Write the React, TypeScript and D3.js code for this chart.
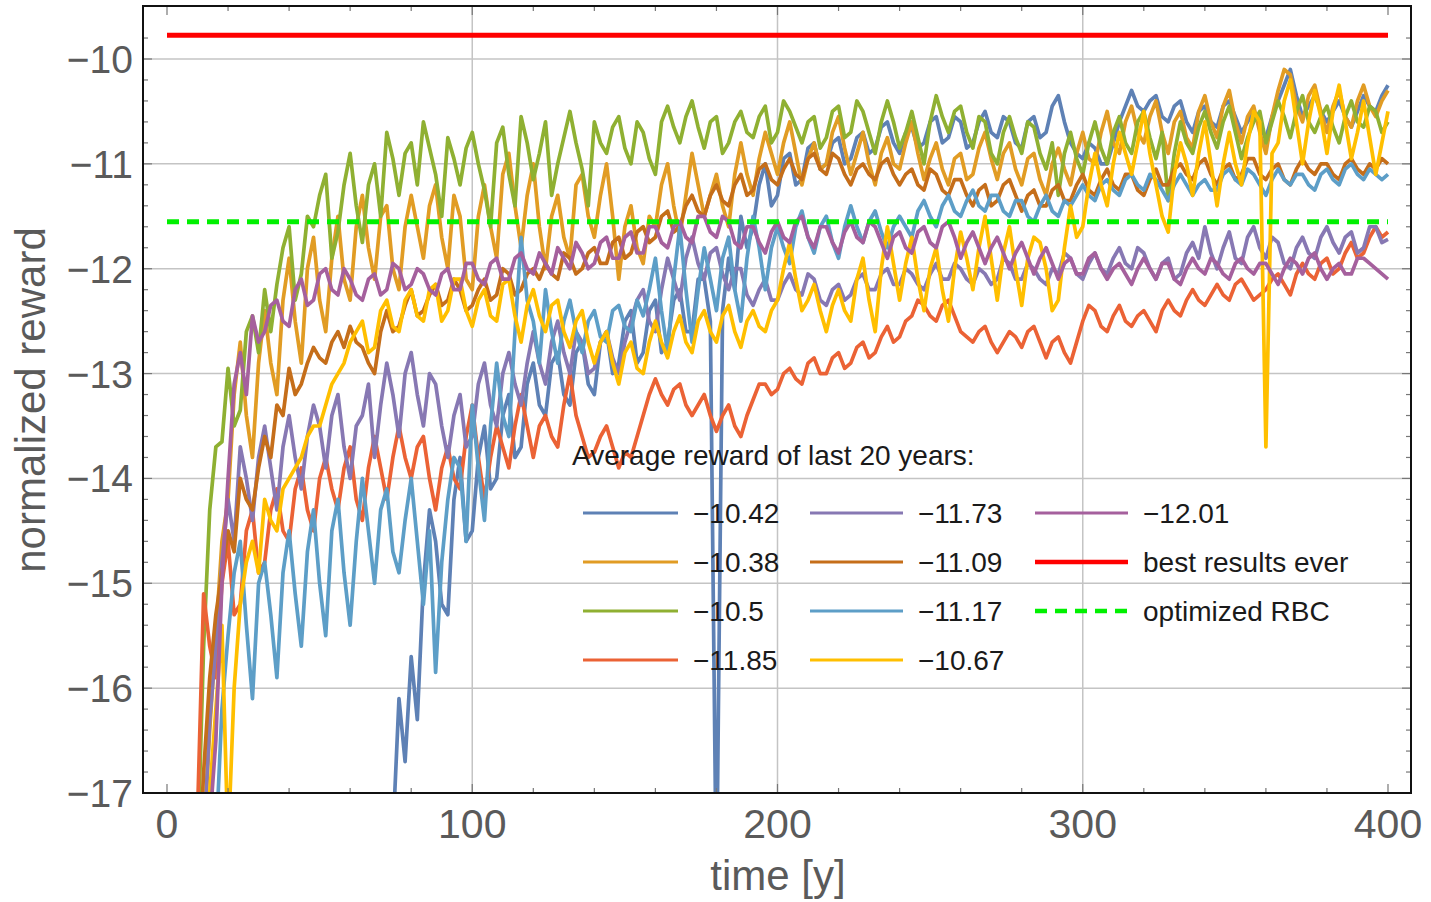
import React from 'react';
import * as d3 from 'd3';

// sampling grid (years): one value every 2 years, t = 0..400
const STEP = 2;
const years: number[] = d3.range(0, 401, STEP);

// series values (rows of 10 = 20 years each)
const blue = [
  -18, -18, -18, -18, -18, -18, -18, -18, -18, -18,
  -18, -18, -18, -18, -18, -18, -18, -18, -18, -18,
  -18, -18, -18, -18, -18, -18, -18, -18, -18, -18,
  -18, -18, -18, -18, -18, -18, -18, -17.4, -16.1, -16.7,
  -15.7, -16.3, -15.0, -14.3, -14.6, -15.2, -15.3, -14.2, -13.8, -14.6,
  -14.5, -13.8, -13.5, -14.1, -14.0, -13.4, -13.2, -13.8, -13.7, -13.1,
  -12.9, -13.3, -13.4, -12.9, -12.8, -13.2, -13.3, -12.8, -12.7, -13.1,
  -13.2, -12.7, -12.6, -13.0, -12.9, -12.5, -12.4, -12.9, -12.8, -12.4,
  -12.3, -12.8, -12.7, -12.3, -12.2, -12.6, -12.6, -12.1, -12.1, -12.5,
  -18, -12.4, -11.9, -12.2, -11.5, -11.8, -11.6, -11.2, -11.0, -11.4,
  -11.3, -10.95, -10.9, -11.2, -11.15, -10.85, -10.8, -11.05, -11.0, -10.8,
  -10.75, -11.0, -10.95, -10.75, -10.7, -10.9, -10.85, -10.65, -10.6, -10.8,
  -10.9, -10.7, -10.65, -10.85, -10.8, -10.6, -10.55, -10.8, -10.75, -10.55,
  -10.6, -10.85, -10.8, -10.6, -10.5, -10.7, -10.75, -10.55, -10.6, -10.8,
  -10.85, -10.6, -10.55, -10.75, -10.7, -10.45, -10.35, -10.6, -10.8, -10.9,
  -10.95, -10.8, -10.85, -11.0, -11.0, -10.8, -10.6, -10.45, -10.3, -10.45,
  -10.5, -10.4, -10.35, -10.55, -10.6, -10.45, -10.4, -10.6, -10.7, -10.5,
  -10.45, -10.6, -10.65, -10.45, -10.4, -10.55, -10.7, -10.6, -10.5, -10.65,
  -10.75, -10.55, -10.4, -10.25, -10.1, -10.35, -10.55, -10.45, -10.35, -10.5,
  -10.6, -10.5, -10.4, -10.55, -10.65, -10.5, -10.35, -10.45, -10.5, -10.35,
  -10.25,
];
const orange = [
  -18, -18, -18, -18, -18, -18, -17.5, -16.4, -15.5, -14.6,
  -14.2, -13.2, -12.7, -13.4, -13.8, -12.9, -12.4, -12.9, -13.2, -12.3,
  -11.9, -12.5, -12.9, -12.0, -11.7, -12.3, -12.6, -11.9, -11.5, -12.1,
  -12.3, -11.6, -11.3, -11.8, -12.1, -11.5, -11.4, -12.0, -12.2, -11.6,
  -11.3, -11.6, -11.9, -11.4, -11.2, -11.7, -12.0, -11.3, -11.5, -12.1,
  -12.2, -11.5, -11.2, -11.6, -11.9, -11.1, -10.9, -11.4, -11.8, -11.3,
  -11.0, -11.6, -12.0, -11.5, -11.3, -11.7, -11.9, -11.2, -11.1, -11.5,
  -11.7, -11.3, -11.0, -11.5, -12.1, -11.6, -11.4, -11.8, -11.95, -11.5,
  -11.6, -11.2, -11.0, -11.4, -11.7, -11.3, -10.9, -11.2, -11.5, -11.3,
  -11.1, -11.4, -11.6, -11.1, -10.8, -11.1, -11.3, -10.95, -10.7, -10.9,
  -11.1, -10.8, -10.6, -10.9, -11.2, -10.95, -10.8, -11.05, -11.0, -10.7,
  -10.55, -10.85, -11.1, -10.9, -10.7, -11.0, -11.2, -10.9, -10.75, -11.0,
  -11.05, -10.8, -10.6, -10.9, -11.15, -10.95, -10.8, -11.05, -11.2, -10.95,
  -10.9, -11.15, -11.1, -10.85, -10.7, -10.95, -11.15, -10.9, -10.8, -11.05,
  -11.2, -10.95, -10.9, -11.15, -11.3, -11.0, -10.85, -11.05, -11.2, -10.9,
  -10.7, -10.95, -11.0, -10.7, -10.5, -10.8, -10.9, -10.6, -10.45, -10.7,
  -10.8, -10.55, -10.4, -10.7, -10.9, -10.6, -10.5, -10.75, -10.85, -10.5,
  -10.35, -10.6, -10.75, -10.45, -10.3, -10.6, -10.8, -10.55, -10.45, -10.7,
  -10.9, -10.55, -10.3, -10.1, -10.15, -10.45, -10.6, -10.35, -10.25, -10.5,
  -10.7, -10.45, -10.3, -10.55, -10.65, -10.4, -10.25, -10.45, -10.55, -10.4,
  -10.3,
];
const green = [
  -18, -18, -18, -18, -18, -17.6, -15.6, -14.3, -13.7, -13.65,
  -12.95, -13.5, -13.35, -12.6, -12.45, -12.8, -12.2, -12.6, -12.15, -11.8,
  -11.6, -12.3, -12.05, -11.5, -11.6, -11.3, -11.1, -11.9, -11.65, -11.2,
  -10.9, -11.4, -11.75, -11.2, -11.0, -11.5, -10.7, -10.95, -11.3, -10.9,
  -10.8, -11.2, -10.6, -10.85, -11.1, -11.5, -10.75, -10.95, -11.2, -10.85,
  -10.7, -11.0, -11.25, -11.6, -10.8, -10.65, -11.1, -11.4, -10.55, -10.8,
  -11.15, -10.9, -10.6, -11.3, -11.0, -10.75, -10.5, -10.8, -11.05, -11.4,
  -10.6, -10.8, -10.9, -10.65, -10.55, -10.85, -11.0, -10.6, -10.7, -10.95,
  -11.1, -10.6, -10.45, -10.65, -10.8, -10.55, -10.4, -10.65, -10.85, -10.6,
  -10.55, -10.9, -10.8, -10.6, -10.5, -10.7, -10.75, -10.55, -10.45, -10.8,
  -10.7, -10.4, -10.5, -10.65, -10.8, -10.6, -10.55, -10.85, -10.75, -10.5,
  -10.45, -10.75, -10.7, -10.4, -10.5, -10.7, -10.9, -10.6, -10.4, -10.6,
  -10.85, -10.7, -10.5, -10.75, -11.0, -10.6, -10.35, -10.55, -10.7, -10.5,
  -10.45, -10.7, -10.85, -10.55, -10.6, -10.9, -11.0, -10.7, -10.55, -10.75,
  -10.9, -10.6, -10.65, -10.9, -11.05, -10.8, -11.3, -10.9, -10.7, -10.95,
  -11.1, -10.8, -10.6, -10.85, -11.0, -10.7, -10.55, -10.8, -10.9, -10.6,
  -10.5, -10.75, -10.95, -10.7, -11.35, -10.9, -10.6, -10.8, -10.9, -10.65,
  -10.5, -10.7, -10.85, -10.6, -10.45, -10.7, -10.95, -10.75, -10.6, -10.5,
  -10.8, -10.6, -10.4, -10.55, -10.75, -10.5, -10.35, -10.6, -10.7, -10.55,
  -10.45, -10.65, -10.8, -10.55, -10.4, -10.6, -10.65, -10.45, -10.5, -10.7,
  -10.6,
];
const redOrange = [
  -18, -18, -18, -18, -18, -17.2, -15.1, -15.6, -15.9, -15.0,
  -14.6, -15.3, -15.2, -14.5, -14.3, -14.9, -14.8, -14.3, -14.1, -14.5,
  -14.6, -14.1, -13.9, -14.3, -14.5, -14.0, -13.8, -14.1, -14.3, -13.9,
  -13.7, -14.2, -14.4, -13.9, -13.6, -13.9, -14.2, -13.8, -13.5, -13.8,
  -14.0, -13.7, -13.6, -14.0, -14.3, -13.9, -13.7, -14.0, -14.1, -13.6,
  -13.3, -13.8, -14.2, -13.8, -13.5, -13.7, -13.9, -13.5, -13.2, -13.5,
  -13.8, -13.5, -13.4, -13.6, -13.7, -13.3, -13.0, -13.4, -13.6, -13.8,
  -13.75, -13.6, -13.5, -13.7, -13.9, -13.75, -13.8, -13.6, -13.4, -13.2,
  -13.05, -13.2, -13.3, -13.15, -13.1, -13.3, -13.4, -13.3, -13.2, -13.4,
  -13.55, -13.4, -13.3, -13.5, -13.6, -13.4, -13.25, -13.1, -13.1, -13.2,
  -13.15, -13.0, -12.95, -13.05, -13.1, -12.9, -12.85, -13.0, -13.0, -12.85,
  -12.8, -12.95, -12.9, -12.75, -12.7, -12.85, -12.8, -12.65, -12.55, -12.7,
  -12.65, -12.5, -12.45, -12.3, -12.35, -12.45, -12.5, -12.35, -12.3, -12.45,
  -12.6, -12.65, -12.7, -12.6, -12.55, -12.7, -12.8, -12.7, -12.6, -12.65,
  -12.75, -12.6, -12.55, -12.7, -12.85, -12.7, -12.65, -12.8, -12.9, -12.7,
  -12.5, -12.35, -12.4, -12.55, -12.6, -12.45, -12.35, -12.5, -12.55, -12.45,
  -12.4, -12.5, -12.6, -12.4, -12.3, -12.4, -12.45, -12.3, -12.2, -12.3,
  -12.35, -12.25, -12.15, -12.25, -12.3, -12.15, -12.1, -12.2, -12.3, -12.25,
  -12.2, -12.1, -12.05, -12.15, -12.25, -12.05, -11.95, -12.05, -12.1, -11.95,
  -11.9, -12.05, -12.0, -11.85, -11.75, -11.9, -11.85, -11.7, -11.6, -11.7,
  -11.65,
];
const lavender = [
  -18, -18, -18, -18, -18, -18, -17.5, -16.3, -15.6, -14.8,
  -14.2, -14.6, -13.7, -14.0, -14.4, -13.8, -13.5, -13.9, -14.3, -13.7,
  -13.4, -13.8, -14.1, -13.6, -13.3, -13.5, -13.9, -13.4, -13.2, -13.7,
  -14.0, -13.5, -13.4, -13.1, -13.8, -13.3, -12.9, -13.2, -13.6, -13.0,
  -12.8, -13.2, -13.5, -13.0, -13.1, -13.5, -13.8, -13.4, -13.2, -13.7,
  -13.6, -13.1, -12.9, -13.3, -13.5, -13.0, -12.8, -13.1, -13.3, -12.9,
  -12.6, -12.9, -13.1, -12.7, -12.5, -12.8, -13.0, -12.6, -12.7, -13.0,
  -12.95, -12.7, -12.6, -12.85, -13.0, -12.7, -12.5, -12.3, -12.2, -12.5,
  -12.6, -12.2, -11.9, -12.1, -12.3, -11.9, -11.7, -11.95, -12.1, -11.85,
  -11.8, -12.05, -12.2, -12.0, -12.0, -12.25, -12.35, -12.2, -12.1, -12.3,
  -12.3, -12.15, -12.05, -12.2, -12.25, -12.05, -12.1, -12.3, -12.35, -12.2,
  -12.15, -12.3, -12.25, -12.1, -12.05, -12.2, -12.2, -12.05, -12.0, -12.15,
  -12.15, -12.0, -12.05, -12.15, -12.2, -12.05, -11.95, -12.1, -12.1, -11.95,
  -12.0, -12.1, -12.15, -12.0, -12.05, -12.15, -12.1, -11.9, -11.95, -12.1,
  -12.1, -11.95, -12.0, -12.1, -12.15, -12.0, -12.05, -11.85, -11.9, -12.05,
  -12.1, -11.95, -11.85, -12.0, -12.05, -11.9, -11.8, -11.95, -12.0, -11.8,
  -11.85, -12.0, -12.1, -11.95, -11.9, -12.1, -12.05, -11.85, -11.75, -11.9,
  -11.6, -11.85, -12.0, -11.8, -11.65, -11.9, -11.95, -11.7, -11.6, -11.8,
  -11.9, -11.7, -11.75, -11.95, -12.0, -11.8, -11.7, -11.85, -11.9, -11.7,
  -11.6, -11.75, -11.85, -11.7, -11.65, -11.85, -11.8, -11.6, -11.6, -11.75,
  -11.72,
];
const darkOrange = [
  -18, -18, -18, -18, -18, -18, -16.8, -15.9, -15.3, -14.9,
  -14.5, -14.7, -14.0, -14.2, -14.3, -13.9, -13.6, -13.8, -13.3, -13.4,
  -12.95, -13.2, -13.1, -12.9, -12.75, -12.85, -12.9, -12.7, -12.6, -12.75,
  -12.55, -12.7, -12.75, -12.9, -13.0, -12.6, -12.4, -12.6, -12.55, -12.35,
  -12.2, -12.45, -12.4, -12.25, -12.15, -12.35, -12.3, -12.1, -12.2, -12.4,
  -12.35, -12.2, -12.1, -12.3, -12.25, -12.0, -12.05, -12.25, -12.2, -12.05,
  -12.0, -12.1, -11.95, -12.05, -12.1, -11.85, -11.9, -12.05, -12.0, -11.85,
  -11.8, -11.95, -11.95, -11.75, -11.7, -11.9, -11.85, -11.65, -11.6, -11.75,
  -11.7, -11.5, -11.45, -11.65, -11.6, -11.4, -11.3, -11.45, -11.5, -11.3,
  -11.2, -11.35, -11.4, -11.2, -11.1, -11.3, -11.25, -11.05, -11.0, -11.15,
  -11.2, -11.05, -10.95, -11.1, -11.15, -10.95, -10.9, -11.05, -11.1, -10.9,
  -10.95, -11.1, -11.2, -11.05, -11.0, -11.1, -11.15, -11.0, -10.95, -11.1,
  -11.2, -11.1, -11.05, -11.2, -11.25, -11.05, -11.1, -11.25, -11.3, -11.15,
  -11.15, -11.3, -11.4, -11.25, -11.2, -11.4, -11.35, -11.2, -11.15, -11.3,
  -11.45, -11.3, -11.25, -11.4, -11.4, -11.25, -11.2, -11.35, -11.35, -11.2,
  -11.1, -11.25, -11.3, -11.15, -11.05, -11.2, -11.25, -11.1, -11.1, -11.25,
  -11.3, -11.15, -11.05, -11.2, -11.2, -11.05, -11.0, -11.1, -11.15, -11.0,
  -10.95, -11.1, -11.2, -11.05, -11.0, -11.15, -11.1, -10.95, -10.95, -11.1,
  -11.15, -11.05, -11.0, -11.15, -11.2, -11.05, -10.95, -11.05, -11.1, -11.0,
  -11.0, -11.1, -11.15, -11.0, -10.95, -11.05, -11.1, -11.0, -11.05, -10.95,
  -11.0,
];
const lightBlue = [
  -18, -18, -18, -18, -18, -18, -18, -18, -17.5, -16.2,
  -15.5, -14.9, -14.6, -15.4, -16.1, -15.0, -14.8, -15.3, -15.9, -14.9,
  -14.5, -15.1, -15.6, -14.7, -14.3, -15.0, -15.5, -14.5, -14.2, -14.9,
  -15.4, -14.6, -14.0, -14.5, -15.0, -14.3, -14.1, -14.7, -14.9, -14.4,
  -14.0, -14.6, -15.2, -14.5, -15.85, -14.8, -14.2, -13.8, -13.9, -14.6,
  -13.3, -13.9, -14.4, -13.5, -12.9, -13.4, -13.6, -12.6, -11.7, -12.3,
  -12.5, -12.9, -12.2, -12.6, -12.9, -12.5, -12.3, -12.6, -12.8, -12.5,
  -12.4, -12.65, -12.7, -12.4, -12.35, -12.55, -12.6, -12.3, -12.45, -12.2,
  -11.9, -12.4, -12.8, -12.1, -11.6, -12.2, -12.7, -12.2, -11.8, -12.1,
  -12.4, -11.9, -11.7, -12.2, -12.5, -11.9, -11.5, -11.8, -12.2, -11.8,
  -11.6, -11.8, -11.95, -11.6, -11.45, -11.7, -11.85, -11.6, -11.5, -11.75,
  -11.9, -11.6, -11.4, -11.6, -11.75, -11.55, -11.45, -11.65, -11.8, -11.6,
  -11.5, -11.6, -11.7, -11.45, -11.35, -11.5, -11.6, -11.4, -11.3, -11.45,
  -11.5, -11.35, -11.25, -11.4, -11.45, -11.3, -11.3, -11.45, -11.5, -11.35,
  -11.35, -11.5, -11.55, -11.4, -11.3, -11.45, -11.5, -11.35, -11.4, -11.3,
  -11.2, -11.3, -11.35, -11.2, -11.15, -11.25, -11.3, -11.15, -11.1, -11.2,
  -11.25, -11.1, -11.15, -11.25, -11.35, -11.2, -11.1, -11.2, -11.3, -11.2,
  -11.15, -11.25, -11.25, -11.1, -11.05, -11.15, -11.2, -11.05, -11.1, -11.2,
  -11.3, -11.15, -11.05, -11.15, -11.2, -11.1, -11.1, -11.2, -11.25, -11.1,
  -11.05, -11.15, -11.2, -11.05, -11.0, -11.1, -11.15, -11.05, -11.1, -11.15,
  -11.1,
];
const yellow = [
  -18, -18, -18, -18, -18, -18, -18, -17.0, -16.2, -15.4,
  -17.5, -16.0, -15.2, -14.8, -14.6, -14.9, -14.2, -14.4, -14.5, -14.1,
  -14.0, -13.9, -13.8, -13.6, -13.5, -13.5, -13.3, -13.1, -13.0, -12.9,
  -12.7, -12.6, -12.5, -12.8, -12.75, -12.4, -12.3, -12.55, -12.6, -12.3,
  -12.2, -12.45, -12.5, -12.2, -12.15, -12.5, -12.4, -12.1, -12.1, -12.4,
  -12.55, -12.3, -12.2, -12.45, -12.5, -12.15, -12.1, -12.45, -12.7, -12.35,
  -12.2, -12.45, -12.6, -12.35, -12.3, -12.6, -12.75, -12.5, -12.4, -12.7,
  -12.9, -12.7, -12.6, -12.9, -13.1, -12.8, -12.7, -12.95, -13.0, -12.7,
  -12.5, -12.7, -12.85, -12.6, -12.45, -12.7, -12.8, -12.5, -12.4, -12.6,
  -12.7, -12.45, -12.35, -12.6, -12.75, -12.5, -12.4, -12.55, -12.6, -12.4,
  -12.3, -12.0, -11.75, -12.1, -12.4, -12.3, -12.15, -12.4, -12.6, -12.35,
  -12.2, -12.4, -12.5, -12.1, -11.9, -12.3, -12.6, -12.0, -11.6, -11.95,
  -12.3, -11.95, -11.7, -12.1, -12.4, -12.0, -11.8, -12.2, -12.5, -12.0,
  -11.65, -11.9, -12.2, -11.8, -11.5, -11.9, -12.3, -11.85, -11.6, -12.0,
  -12.35, -11.9, -11.7, -11.75, -12.0, -12.4, -12.3, -11.8, -11.4, -11.7,
  -11.6, -11.2, -10.9, -11.2, -11.4, -11.0, -10.7, -10.9, -11.1, -10.8,
  -10.5, -10.9, -11.2, -11.5, -11.65, -11.1, -10.8, -11.0, -11.3, -10.9,
  -10.6, -11.0, -11.4, -11.0, -10.7, -11.0, -11.2, -10.8, -10.5, -10.6,
  -13.7, -10.9, -10.8, -10.4, -10.2, -10.6, -11.0, -10.6, -10.3, -10.55,
  -10.9, -10.5, -10.25, -10.6, -10.95, -10.7, -10.4, -10.75, -11.1, -10.8,
  -10.5,
];
const magenta = [
  -18, -18, -18, -18, -18, -18, -18, -17.3, -16.5, -15.0,
  -14.0, -13.1, -12.8, -13.2, -12.45, -12.7, -12.6, -12.35, -12.3, -12.5,
  -12.55, -12.2, -12.1, -12.35, -12.3, -12.05, -12.0, -12.2, -12.25, -12.0,
  -12.1, -12.25, -12.3, -12.1, -12.05, -12.25, -12.2, -11.95, -12.0, -12.2,
  -12.15, -12.0, -12.05, -12.2, -12.25, -12.05, -12.0, -12.2, -12.2, -11.95,
  -11.95, -12.1, -12.15, -11.95, -11.9, -12.1, -12.1, -11.9, -11.85, -12.0,
  -12.05, -11.85, -11.95, -12.05, -11.8, -11.9, -12.0, -11.75, -11.85, -12.0,
  -11.95, -11.75, -11.7, -11.9, -11.9, -11.7, -11.65, -11.85, -11.85, -11.6,
  -11.6, -11.75, -11.8, -11.6, -11.55, -11.7, -11.75, -11.5, -11.5, -11.65,
  -11.7, -11.5, -11.55, -11.75, -11.8, -11.6, -11.6, -11.75, -11.85, -11.65,
  -11.55, -11.7, -11.75, -11.55, -11.5, -11.7, -11.8, -11.6, -11.6, -11.75,
  -11.85, -11.65, -11.55, -11.7, -11.75, -11.55, -11.6, -11.75, -11.9, -11.7,
  -11.65, -11.8, -11.85, -11.65, -11.6, -11.75, -11.8, -11.6, -11.55, -11.7,
  -11.9, -11.75, -11.65, -11.8, -11.95, -11.8, -11.7, -11.85, -12.0, -11.85,
  -11.75, -11.9, -12.05, -11.9, -11.8, -11.95, -12.1, -11.95, -11.9, -12.05,
  -12.05, -11.9, -11.85, -12.0, -12.1, -12.0, -11.95, -12.05, -12.15, -12.0,
  -11.9, -12.0, -12.1, -11.95, -11.95, -12.1, -12.15, -12.0, -11.9, -12.0,
  -12.05, -11.9, -11.95, -12.05, -12.1, -11.95, -11.9, -12.0, -12.05, -11.95,
  -11.95, -12.05, -12.15, -12.0, -11.9, -11.95, -12.05, -11.9, -11.85, -12.0,
  -12.1, -12.0, -11.95, -12.05, -12.05, -11.9, -11.9, -11.95, -12.0, -12.05,
  -12.1,
];

const seriesValues = [blue, orange, green, redOrange, lavender, darkOrange, lightBlue, yellow, magenta];
const seriesLabels = ['−10.42', '−10.38', '−10.5', '−11.85', '−11.73', '−11.09', '−11.17', '−10.67', '−12.01'];
const seriesColors = ['#5E81B5', '#E19C24', '#8FB032', '#EB6235', '#8778B3', '#C56E1A', '#5D9EC7', '#FFBF00', '#A5609D'];

const bestResult = -9.774;
const rbcValue = -11.552;
const refSpan = [0, 400];

const xTicks = [0, 100, 200, 300, 400];
const yTicks = [-10, -11, -12, -13, -14, -15, -16, -17];
const xGrid = [100, 200, 300];
const yGrid = [-10, -11, -12, -13, -14, -15, -16];

const legendTitle = 'Average reward of last 20 years:';
const bestLabel = 'best results ever';
const rbcLabel = 'optimized RBC';
const xTitle = 'time [y]';
const yTitle = 'normalized reward';

const fmt = (v: number) => (v < 0 ? '−' + Math.abs(v) : String(v));

export default function App() {
  const W = 1431, H = 902;
  const left = 143, right = 1411, top = 6, bottom = 793;
  const x = d3.scaleLinear().domain([0, 400]).range([167, 1388]);
  const y = d3.scaleLinear().domain([-17, -10]).range([793, 59]);

  const line = d3.line<number>()
    .x((_, i) => x(years[i]))
    .y((d) => y(d));

  const font = '"Liberation Sans", Arial, sans-serif';
  const minorX = d3.range(0, 401, 20);
  const minorY = d3.range(-17, -9.79, 0.2);

  const legendCols = [[583, 678, 693], [810, 903, 918], [1035, 1128, 1143]];
  const rowY = (k: number) => 513 + 49 * k;

  const legendItems: { col: number; row: number; color: string; label: string; dash?: string; width: number }[] = [];
  seriesLabels.forEach((lab, i) => {
    legendItems.push({ col: Math.floor(i / 4), row: i % 4, color: seriesColors[i], label: lab, width: 3 });
  });
  legendItems.push({ col: 2, row: 1, color: '#FF0000', label: bestLabel, width: 4.5 });
  legendItems.push({ col: 2, row: 2, color: '#00F000', label: rbcLabel, width: 4.5, dash: '12,8' });

  return (
    <svg width={W} height={H} style={{ position: 'absolute', left: 0, top: 0, background: '#fff' }} fontFamily={font}>
      <defs>
        <clipPath id="plotClip">
          <rect x={left} y={top} width={right - left} height={bottom - top} />
        </clipPath>
      </defs>
      <rect x={0} y={0} width={W} height={H} fill="#fff" />
      {xGrid.map((t) => (
        <line key={'gx' + t} x1={x(t)} x2={x(t)} y1={top} y2={bottom} stroke="#c4c4c4" strokeWidth={1.5} />
      ))}
      {yGrid.map((v) => (
        <line key={'gy' + v} x1={left} x2={right} y1={y(v)} y2={y(v)} stroke="#c4c4c4" strokeWidth={1.5} />
      ))}
      <g clipPath="url(#plotClip)">
        {seriesValues.map((vals, i) => (
          <path key={'s' + i} d={line(vals) || ''} fill="none" stroke={seriesColors[i]} strokeWidth={3.7} strokeLinejoin="round" />
        ))}
        <line x1={x(refSpan[0])} x2={x(refSpan[1])} y1={y(bestResult)} y2={y(bestResult)} stroke="#FF0000" strokeWidth={5} />
        <line x1={x(refSpan[0])} x2={x(refSpan[1])} y1={y(rbcValue)} y2={y(rbcValue)} stroke="#00F000" strokeWidth={5} strokeDasharray="12,8" />
      </g>
      {minorX.map((t) => {
        const len = t % 100 === 0 ? 9 : 5;
        return (
          <g key={'tx' + t}>
            <line x1={x(t)} x2={x(t)} y1={bottom} y2={bottom - len} stroke="#777" strokeWidth={1.2} />
            <line x1={x(t)} x2={x(t)} y1={top} y2={top + len} stroke="#777" strokeWidth={1.2} />
          </g>
        );
      })}
      {minorY.map((v, i) => {
        const len = i % 5 === 0 ? 9 : 5;
        return (
          <g key={'ty' + i}>
            <line x1={left} x2={left + len} y1={y(v)} y2={y(v)} stroke="#777" strokeWidth={1.2} />
            <line x1={right} x2={right - len} y1={y(v)} y2={y(v)} stroke="#777" strokeWidth={1.2} />
          </g>
        );
      })}
      <rect x={left} y={top} width={right - left} height={bottom - top} fill="none" stroke="#111" strokeWidth={2} />
      {xTicks.map((t) => (
        <text key={'lx' + t} x={x(t)} y={838} textAnchor="middle" fontSize={41} fill="#5a5a5a">{t}</text>
      ))}
      {yTicks.map((v) => (
        <text key={'ly' + v} x={133} y={y(v)} dy="0.36em" textAnchor="end" fontSize={39} fill="#5a5a5a">{fmt(v)}</text>
      ))}
      <text x={778} y={890} textAnchor="middle" fontSize={42} fill="#5a5a5a">{xTitle}</text>
      <text transform="translate(45,400) rotate(-90)" textAnchor="middle" fontSize={42} fill="#5a5a5a">{yTitle}</text>
      <text x={572} y={465} fontSize={28} fill="#1a1a1a">{legendTitle}</text>
      {legendItems.map((it, i) => {
        const [x1, x2, tx] = legendCols[it.col];
        const ly = rowY(it.row);
        return (
          <g key={'lg' + i}>
            <line x1={x1} x2={x2} y1={ly} y2={ly} stroke={it.color} strokeWidth={it.width} strokeDasharray={it.dash} />
            <text x={tx} y={ly + 10} fontSize={28} fill="#1a1a1a">{it.label}</text>
          </g>
        );
      })}
    </svg>
  );
}
